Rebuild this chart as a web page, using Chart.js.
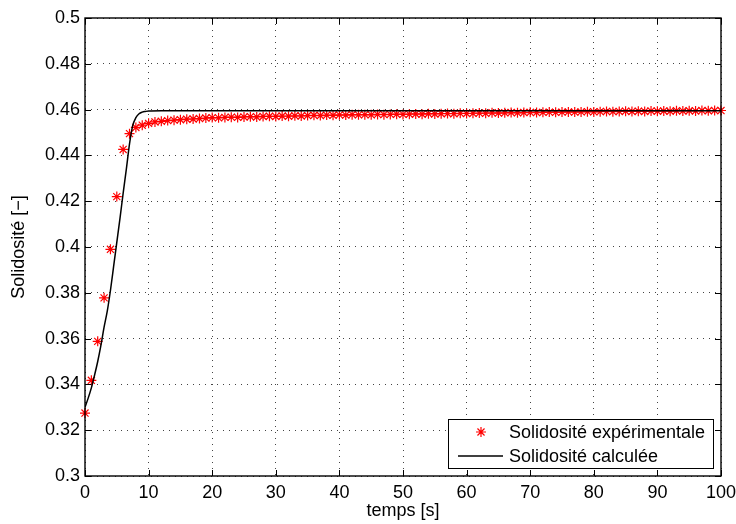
<!DOCTYPE html>
<html>
<head>
<meta charset="utf-8">
<script src="https://cdn.jsdelivr.net/npm/chart.js@4.4.1/dist/chart.umd.min.js"></script>
<style>
html,body{margin:0;padding:0;background:#fff;}
#wrap{position:relative;width:736px;height:524px;}
</style>
</head>
<body>
<div id="wrap"><canvas id="c" width="736" height="524"></canvas></div>
<script>
// ---- Data ----
const expT = [0,1,2,3,4,5,6,7,8,9,10,11,12,13,14,15,16,17,18,19,20,21,22,23,24,25,26,27,28,29,30,31,32,33,34,35,36,37,38,39,40,41,42,43,44,45,46,47,48,49,50,51,52,53,54,55,56,57,58,59,60,61,62,63,64,65,66,67,68,69,70,71,72,73,74,75,76,77,78,79,80,81,82,83,84,85,86,87,88,89,90,91,92,93,94,95,96,97,98,99,100];
const expY = [0.3275,0.3418,0.3588,0.3778,0.3990,0.4220,0.4426,0.4495,0.4522,0.4532,
  0.4540,0.4546,0.4549,0.4552,0.4554,0.4556,0.4558,0.4559,0.4561,0.4563,
  0.4565,0.4564,0.4566,0.4567,0.4566,0.4568,0.4569,0.4568,0.4570,0.4571,
  0.4570,0.4572,0.4571,0.4573,0.4572,0.4574,0.4575,0.4574,0.4576,0.4575,
  0.4577,0.4576,0.4578,0.4577,0.4578,0.4577,0.4579,0.4578,0.4579,0.4580,
  0.4579,0.4580,0.4581,0.4580,0.4582,0.4581,0.4582,0.4583,0.4582,0.4584,
  0.4583,0.4584,0.4585,0.4584,0.4586,0.4585,0.4586,0.4587,0.4586,0.4587,
  0.4588,0.4587,0.4588,0.4589,0.4588,0.4589,0.4590,0.4589,0.4590,0.4591,
  0.4590,0.4591,0.4592,0.4591,0.4592,0.4593,0.4592,0.4593,0.4592,0.4594,
  0.4593,0.4594,0.4593,0.4595,0.4594,0.4595,0.4594,0.4596,0.4595,0.4596,
  0.4596];
const calcT = [0,0.5,1,1.5,2,2.5,3,3.5,4,4.5,5,5.5,6,6.5,7,7.5,8,8.5,9,9.5,10,12,100];
const calcY = [0.3300,0.3340,0.3385,0.3440,0.3500,0.3570,0.3650,0.3720,0.3810,0.3915,0.4020,0.4125,0.4235,0.4340,0.4450,0.4530,0.4565,0.4582,0.4589,0.4592,0.4594,0.4595,0.4595];
const seriesNames = ['Solidosité expérimentale','Solidosité calculée'];
const xTitle = 'temps [s]';
const yTitle = 'Solidosité [−]';
const xMin = 0, xMax = 100, xStep = 10;
const yMin = 0.3, yMax = 0.5, yStep = 0.02;

// ---- Chart ----
const FONT = 'Liberation Sans, Arial, Helvetica, sans-serif';
Chart.defaults.font.family = FONT;
Chart.defaults.font.size = 18;
Chart.defaults.color = '#000';

const expPts = expT.map((t,i)=>({x:t,y:expY[i]}));
const calcPts = calcT.map((t,i)=>({x:t,y:calcY[i]}));

function drawStar(ctx, x, y, r){
  ctx.beginPath();
  for (let k=0;k<4;k++){
    const ang = k*Math.PI/4;
    ctx.moveTo(x-r*Math.cos(ang), y-r*Math.sin(ang));
    ctx.lineTo(x+r*Math.cos(ang), y+r*Math.sin(ang));
  }
  ctx.stroke();
}

const framePlugin = {
  id:'frame',
  afterDatasetsDraw(chart){
    const {ctx, chartArea:a, scales} = chart;
    ctx.save();
    ctx.strokeStyle = '#000';
    ctx.lineWidth = 1;
    const tl = 6;
    ctx.beginPath();
    scales.x.ticks.forEach(tk=>{
      const px = Math.round(scales.x.getPixelForValue(tk.value))+0.5;
      ctx.moveTo(px,a.bottom); ctx.lineTo(px,a.bottom-tl);
      ctx.moveTo(px,a.top); ctx.lineTo(px,a.top+tl);
    });
    scales.y.ticks.forEach(tk=>{
      const py = Math.round(scales.y.getPixelForValue(tk.value))+0.5;
      ctx.moveTo(a.left,py); ctx.lineTo(a.left+tl,py);
      ctx.moveTo(a.right,py); ctx.lineTo(a.right-tl,py);
    });
    ctx.stroke();
    ctx.lineWidth = 1.4;
    ctx.strokeRect(a.left, a.top, a.right-a.left, a.bottom-a.top);

    // legend (lower right inside the plot)
    const bw = 265, bh = 49;
    const bx = a.right - 8 - bw, by = a.bottom - 8 - bh;
    ctx.fillStyle = '#fff';
    ctx.fillRect(bx,by,bw,bh);
    ctx.lineWidth = 1;
    ctx.strokeStyle = '#000';
    ctx.strokeRect(bx+0.5,by+0.5,bw,bh);
    ctx.font = '18px ' + FONT;
    ctx.fillStyle = '#000';
    ctx.textBaseline = 'middle';
    ctx.textAlign = 'left';
    const ds = chart.data.datasets;
    const r1 = by + 13, r2 = by + 37;
    ctx.strokeStyle = ds[0].borderColor;
    ctx.lineWidth = 1.2;
    drawStar(ctx, bx+33, r1, 5);
    ctx.fillText(ds[0].label, bx+61, r1+1);
    ctx.strokeStyle = ds[1].borderColor;
    ctx.lineWidth = 1.4;
    ctx.beginPath();
    ctx.moveTo(bx+10, r2); ctx.lineTo(bx+55, r2);
    ctx.stroke();
    ctx.fillText(ds[1].label, bx+61, r2+1);
    ctx.restore();
  }
};

new Chart(document.getElementById('c'), {
  type:'scatter',
  data:{
    datasets:[
      {label:seriesNames[0], data:expPts, showLine:false, pointStyle:'star', pointRadius:5,
       pointBorderWidth:1.2, borderColor:'#ff0000', backgroundColor:'#ff0000', order:2, clip:false},
      {label:seriesNames[1], data:calcPts, showLine:true, pointRadius:0, borderColor:'#000',
       borderWidth:1.5, cubicInterpolationMode:'monotone', order:1}
    ]
  },
  options:{
    responsive:false, animation:false,
    layout:{padding:{left:0,right:15,top:18,bottom:2}},
    plugins:{legend:{display:false}, tooltip:{enabled:false}},
    scales:{
      x:{type:'linear', min:xMin, max:xMax,
         ticks:{stepSize:xStep, padding:6, maxRotation:0, autoSkip:false},
         grid:{color:'#444', drawTicks:false, lineWidth:1},
         border:{display:false, dash:[1,5]},
         title:{display:true, text:xTitle, padding:{top:0,bottom:0}},
         afterFit(s){ s.height = 46; s.paddingLeft = 0; s.paddingRight = 0; }},
      y:{type:'linear', min:yMin, max:yMax,
         ticks:{stepSize:yStep, padding:5, autoSkip:false,
                callback:v=>String(parseFloat(v.toFixed(2)))},
         grid:{color:'#444', drawTicks:false, lineWidth:1},
         border:{display:false, dash:[1,5]},
         title:{display:true, text:yTitle, padding:{top:8,bottom:0}},
         afterFit(s){ s.width = 85; s.paddingTop = 0; s.paddingBottom = 0; }}
    }
  },
  plugins:[framePlugin]
});
</script>
</body>
</html>
